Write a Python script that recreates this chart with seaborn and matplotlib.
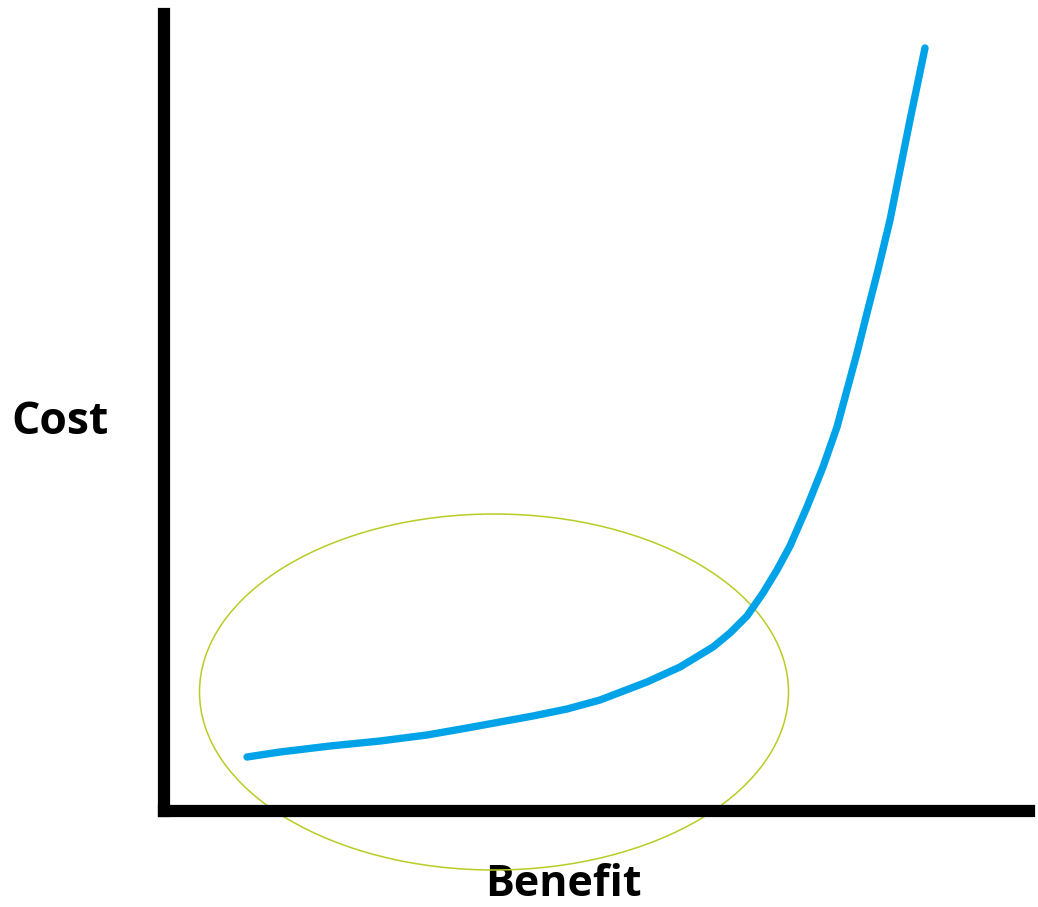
import seaborn as sns
import pandas as pd
import matplotlib.pyplot as plt
from matplotlib.patches import Ellipse

# Кривая "затраты / выгода"
benefit = [83, 116, 166, 216, 263, 303, 336, 369, 403, 436, 449, 483, 516,
           549, 566, 583, 599, 613, 626, 643, 659, 673, 683, 693, 703, 714,
           726, 736, 746, 761]
cost = [54, 59, 65, 70, 76, 83, 89, 95, 102, 111, 116, 129, 144,
        164, 178, 195, 218, 241, 265, 304, 344, 384, 421, 458, 498, 541,
        591, 641, 691, 763]

# Эллипс, выделяющий пологий участок
ellipse_center = (330, 119)
ellipse_width = 589
ellipse_height = 356

x_max = 865
y_max = 797


def create_plot(plt_path):
    sns.set_style('white')
    plt.rcParams['font.family'] = ['Open Sans', 'DejaVu Sans']

    fig = plt.figure(figsize=(10.38, 9.07), dpi=100)
    ax = fig.add_axes([164 / 1038, 96 / 907, 865 / 1038, 797 / 907])

    df = pd.DataFrame({'benefit': benefit, 'cost': cost})
    sns.lineplot(ax=ax, data=df, x='benefit', y='cost', color='#00a2e8',
                 linewidth=5.3, solid_capstyle='round', solid_joinstyle='round')

    ell = Ellipse(ellipse_center, ellipse_width, ellipse_height, fill=False,
                  edgecolor='#b9cc24', linewidth=1.1, clip_on=False)
    ax.add_patch(ell)

    ax.set_xlim(0, x_max)
    ax.set_ylim(0, y_max)
    ax.set_xticks([])
    ax.set_yticks([])

    # Оси как толстые линии
    for side in ['top', 'right']:
        ax.spines[side].set_visible(False)
    for side in ['left', 'bottom']:
        ax.spines[side].set_linewidth(8.8)
        ax.spines[side].set_color('black')
        ax.spines[side].set_capstyle('projecting')

    ax.set_xlabel('Benefit', fontsize=31, fontweight='bold', color='black',
                  ha='center', va='center')
    ax.set_ylabel('Cost', fontsize=32, fontweight='bold', color='black',
                  rotation=0, ha='center', va='center')
    ax.xaxis.set_label_coords((563 - 164) / 865, (811 - 884) / 797)
    ax.yaxis.set_label_coords((60 - 164) / 865, (811 - 423) / 797)

    plt.savefig(plt_path, dpi=100)


def main():
    create_plot('out.png')


if __name__ == "__main__":
    main()
